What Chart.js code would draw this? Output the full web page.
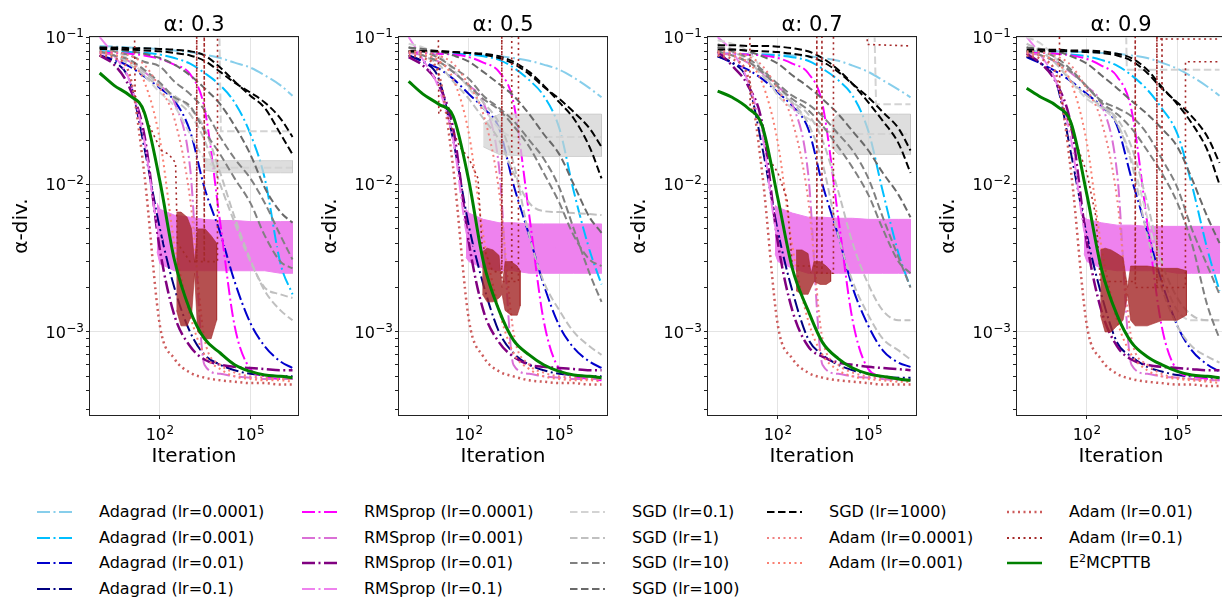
<!DOCTYPE html>
<html>
<head>
<meta charset="utf-8">
<title>alpha-divergence vs iteration</title>
<script src="https://cdn.jsdelivr.net/npm/chart.js@4.4.1/dist/chart.umd.min.js"></script>
<style>
  body { margin: 0; width: 1222px; height: 598px; overflow: hidden; background: #fff; font-family: "DejaVu Sans", sans-serif; }
  canvas.panel { position: absolute; top: 0; }
  .lg { position: absolute; height: 20px; line-height: 20px; font-size: 16px; color: #000; white-space: nowrap; }
  .lg svg { position: absolute; left: 0; top: 5px; }
  .lg span { position: absolute; top: 0; }
  .lg sup { font-size: 11px; line-height: 0; }
</style>
</head>
<body>
<canvas class="panel" id="panel0" width="309" height="480" style="left:0px"></canvas>
<canvas class="panel" id="panel1" width="309" height="480" style="left:309px"></canvas>
<canvas class="panel" id="panel2" width="309" height="480" style="left:618px"></canvas>
<canvas class="panel" id="panel3" width="309" height="480" style="left:927px"></canvas>
<div id="legend"></div>
<script>
// one row per panel (alpha = 0.3, 0.5, 0.7, 0.9), values sampled at `iters`
const alphas = ['0.3', '0.5', '0.7', '0.9'];
const iters = [1, 3, 10, 30, 100, 300, 1e3, 3e3, 1e4, 3e4, 1e5, 3e5, 1e6, 2.5e6];

const adagrad_1e4 = [
  [.087, .086, .085, .084, .083, .081, .079, .076, .072, .067, .062, .055, .047, .040],
  [.078, .078, .077, .077, .076, .075, .074, .072, .069, .065, .060, .053, .045, .039],
  [.077, .077, .076, .076, .076, .075, .074, .072, .069, .064, .058, .051, .044, .039],
  [.080, .080, .080, .079, .079, .078, .077, .075, .072, .067, .061, .054, .046, .040]
];
const adagrad_1e3 = [
  [.080, .080, .079, .078, .076, .072, .066, .057, .047, .036, .022, .011, .0029, .0018],
  [.078, .078, .077, .077, .076, .074, .070, .062, .051, .040, .024, .009, .0036, .0021],
  [.077, .077, .076, .076, .075, .073, .069, .061, .051, .040, .023, .009, .0034, .0020],
  [.078, .078, .077, .076, .074, .070, .064, .055, .044, .033, .022, .010, .0036, .0019]
];
const adagrad_1e2 = [
  [.075, .070, .063, .054, .045, .037, .023, .0095, .0047, .0022, .00115, .0008, .00063, .00057],
  [.075, .068, .061, .052, .041, .033, .024, .010, .0045, .0021, .0011, .00078, .00063, .00057],
  [.074, .067, .060, .052, .042, .034, .024, .010, .0045, .0020, .0011, .00075, .00062, .00058],
  [.073, .066, .058, .050, .041, .034, .025, .011, .0048, .0022, .0011, .00075, .00060, .00054]
];
const adagrad_1e1 = [
  [.075, .068, .050, .018, .0050, .0020, .0010, .0007, .0006, .00055, .00052, .00051, .0005, .0005],
  [.075, .068, .052, .020, .0052, .0021, .0010, .00072, .0006, .00055, .00052, .00051, .0005, .0005],
  [.074, .067, .050, .018, .0048, .0019, .0009, .0007, .0006, .00055, .00052, .0005, .00049, .00049],
  [.074, .066, .048, .016, .0045, .0018, .00085, .00068, .00058, .00054, .00051, .0005, .00049, .00049]
];

const rms_1e4 = [
  [.078, .078, .077, .075, .071, .065, .056, .033, .0055, .0011, .00056, .0005, .00048, .00048],
  [.078, .078, .077, .076, .073, .067, .058, .036, .0062, .0012, .00056, .0005, .00048, .00047],
  [.077, .077, .076, .075, .072, .066, .057, .035, .0060, .0012, .00056, .0005, .00048, .00047],
  [.078, .078, .077, .075, .071, .064, .054, .032, .0055, .0011, .00055, .0005, .00048, .00047]
];
const rms_1e3 = [
  [.078, .075, .068, .058, .047, .036, .013, .0006, .00052, .0005, .00049, .00048, .00048, .00048],
  [.078, .075, .068, .058, .047, .036, .013, .0006, .00052, .0005, .00049, .00048, .00048, .00048],
  [.078, .075, .067, .057, .046, .035, .012, .0006, .00052, .0005, .00049, .00048, .00047, .00047],
  [.078, .075, .067, .057, .046, .035, .012, .0006, .00052, .0005, .00049, .00048, .00047, .00047]
];
const rms_1e2 = [
  [.075, .065, .045, .022, .0036, .0013, .0008, .00065, .0006, .00058, .00057, .00056, .00055, .00055],
  [.073, .064, .047, .024, .0040, .0014, .00085, .00068, .0006, .00058, .00057, .00056, .00055, .00055],
  [.080, .064, .047, .026, .0040, .0014, .0008, .00068, .00062, .0006, .00058, .00057, .00056, .00055],
  [.077, .066, .048, .025, .0040, .0014, .0008, .00065, .0006, .00058, .00057, .00056, .00055, .00055]
];
const rms_1e1 = [
  [.10, .075, .050, .020, .0045, .0038, .0038, .0038, .0038, .0037, .0037, .0037, .0037, .0037],
  [.10, .070, .045, .020, .0042, .0037, .0037, .0037, .0037, .0037, .0037, .0037, .0037, .0037],
  [.10, .080, .050, .022, .0045, .0039, .0039, .0039, .0039, .0038, .0038, .0038, .0038, .0038],
  [.10, .075, .048, .020, .0042, .0036, .0036, .0036, .0036, .0036, .0036, .0036, .0036, .0036]
];
// spread of the noisy RMSprop (lr=0.1) runs
const violetIters = [80, 100, 300, 1e3, 3e3, 1e4, 3e4, 1e5, 3e5, 1e6, 2.5e6];
const violetHi = [
  [.0075, .0068, .0062, .0060, .0058, .0057, .0057, .0056, .0056, .0056, .0056],
  [.0068, .0064, .0058, .0055, .0055, .0054, .0054, .0054, .0054, .0054, .0054],
  [.0072, .0070, .0064, .0060, .0060, .0059, .0059, .0058, .0058, .0058, .0058],
  [.0060, .0058, .0055, .0053, .0053, .0052, .0052, .0052, .0052, .0052, .0052]
];
const violetLo = [
  [.0035, .0029, .0026, .0026, .0026, .0026, .0026, .0026, .0026, .0025, .0025],
  [.0032, .0030, .0027, .0026, .0026, .0025, .0025, .0025, .0025, .0025, .0025],
  [.0034, .0030, .0027, .0025, .0025, .0025, .0025, .0025, .0025, .0025, .0025],
  [.0034, .0030, .0027, .0026, .0026, .0026, .0026, .0025, .0025, .0025, .0025]
];

const sgd_01 = [
  [.085, .080, .070, .055, .042, .034, .022, .015, .013, .013, .013, .013, .013, .013],
  [.090, .085, .075, .060, .045, .033, .024, .021, .021, .021, .021, .021, .021, .021],
  [.095, .090, .080, .060, .040, .033, .028, .024, .022, .022, .022, .022, .022, .022],
  [.100, .090, .070, .050, .038, .033, .026, .015, .0060, .0025, .0014, .0012, .0012, .0012]
];
// noisy plateau of SGD (lr=0.1)
const sgdNoiseIters = [[3000, 1e4, 1e5, 1e6, 2.5e6], [300, 1e3, 1e4, 1e5, 1e6, 2.5e6], [6000, 1e4, 1e5, 1e6, 2.5e6], []];
const sgdNoiseHi = [[.015, .0145, .0145, .0145, .0145], [.026, .030, .030, .030, .030, .030], [.027, .030, .030, .030, .030], []];
const sgdNoiseLo = [[.0125, .012, .012, .012, .012], [.018, .016, .0155, .0155, .0155, .0155], [.018, .016, .016, .016, .016], []];
// SGD (lr=0.1) runs that start off the chart and drop onto a plateau
const sgdJump = [
  [[1, .2], [9000, .2], [10500, .023], [2.5e6, .023]],
  [],
  [[1, .2], [1.5e5, .2], [1.8e5, .035], [2.5e6, .035]],
  [[1, .2], [1900, .2], [2100, .06], [2.5e6, .06]]
];
const sgd_1 = [
  [.080, .075, .065, .055, .046, .040, .033, .024, .012, .0060, .0031, .0019, .0014, .0012],
  [.085, .075, .065, .050, .038, .028, .020, .012, .0075, .0066, .0065, .0064, .0063, .0062],
  [.090, .080, .070, .055, .043, .036, .030, .020, .009, .0040, .0021, .0014, .0012, .0012],
  [.090, .080, .065, .050, .040, .034, .028, .018, .0075, .0030, .0017, .0013, .0012, .0012]
];
const sgd_1_run2 = [
  [.080, .075, .068, .058, .047, .038, .030, .020, .010, .0055, .0030, .0020, .0018, .0017],
  [.080, .075, .068, .058, .046, .036, .026, .014, .0045, .0022, .0014, .0010, .0008, .0007],
  [.080, .075, .068, .058, .046, .036, .026, .014, .0045, .0022, .0013, .0009, .00075, .00065],
  [.080, .075, .068, .058, .046, .036, .026, .014, .0045, .0020, .0011, .0008, .00068, .00062]
];
const sgd_10 = [
  [.085, .080, .075, .068, .063, .050, .041, .032, .021, .015, .011, .0075, .0045, .0031],
  [.085, .080, .072, .062, .052, .040, .033, .027, .020, .015, .0095, .0050, .0025, .0016],
  [.085, .080, .072, .060, .048, .040, .035, .029, .022, .017, .011, .0060, .0032, .0020],
  [.085, .080, .072, .060, .046, .037, .033, .029, .022, .015, .0095, .0050, .0028, .0018]
];
const sgd_10_run2 = [
  [.080, .075, .070, .060, .049, .039, .034, .023, .016, .011, .0075, .0045, .0030, .0027],
  [.080, .075, .068, .058, .047, .038, .032, .025, .018, .012, .0075, .0045, .0031, .0028],
  [.080, .075, .068, .058, .046, .038, .032, .025, .018, .013, .0085, .0050, .0030, .0025],
  [.080, .075, .068, .058, .046, .036, .030, .024, .017, .012, .0075, .0040, .0015, .0009]
];
const sgd_100 = [
  [.085, .083, .080, .077, .072, .065, .055, .045, .035, .025, .016, .0095, .0065, .0055],
  [.085, .083, .080, .075, .068, .058, .048, .040, .030, .022, .016, .010, .0060, .0047],
  [.085, .083, .080, .074, .066, .055, .046, .038, .030, .023, .017, .012, .0085, .0060],
  [.085, .083, .080, .074, .066, .055, .045, .037, .030, .024, .018, .011, .0060, .0040]
];
const sgd_1000 = [
  [.085, .085, .084, .084, .083, .082, .080, .075, .062, .050, .040, .033, .022, .016],
  [.080, .080, .080, .079, .078, .077, .074, .068, .058, .047, .036, .028, .018, .011],
  [.088, .088, .087, .087, .086, .084, .080, .072, .060, .048, .036, .027, .019, .012],
  [.082, .082, .082, .081, .081, .080, .077, .072, .060, .046, .035, .026, .017, .010]
];
const sgd_1000_run2 = [
  [.083, .083, .082, .081, .080, .078, .075, .069, .058, .049, .042, .036, .028, .021],
  [.080, .080, .080, .079, .078, .076, .072, .066, .056, .046, .038, .031, .024, .018],
  [.082, .082, .081, .080, .079, .077, .074, .068, .058, .048, .039, .031, .024, .017],
  [.080, .080, .080, .080, .079, .078, .075, .069, .057, .045, .036, .029, .021, .014]
];

const adam_1e4 = [
  [.080, .079, .075, .065, .045, .028, .008, .0009, .0006, .00053, .0005, .00049, .00048, .00048],
  [.080, .079, .075, .066, .047, .030, .009, .0010, .0006, .00053, .0005, .00049, .00048, .00048],
  [.080, .079, .074, .064, .044, .027, .008, .0009, .0006, .00053, .0005, .00049, .00048, .00047],
  [.080, .079, .074, .064, .044, .027, .008, .0009, .0006, .00052, .00049, .00048, .00047, .00047]
];
const adam_1e3 = [
  [.078, .076, .068, .050, .020, .0040, .0013, .0007, .00056, .0005, .00048, .00047, .00047, .00046],
  [.078, .076, .069, .052, .022, .0045, .0014, .00072, .00056, .0005, .00048, .00047, .00047, .00046],
  [.078, .075, .067, .049, .019, .0038, .0012, .0007, .00055, .0005, .00048, .00047, .00046, .00046],
  [.078, .075, .067, .049, .019, .0038, .0012, .0007, .00055, .0005, .00048, .00047, .00046, .00045]
];
const adam_1e2 = [
  [.075, .072, .055, .012, .0011, .00066, .00053, .00049, .00047, .00046, .00045, .00045, .00044, .00044],
  [.075, .072, .056, .013, .0012, .00068, .00054, .0005, .00047, .00046, .00045, .00045, .00044, .00044],
  [.075, .071, .054, .012, .0011, .00066, .00053, .00049, .00047, .00046, .00045, .00044, .00044, .00044],
  [.075, .071, .054, .012, .0011, .00065, .00052, .00048, .00046, .00045, .00044, .00044, .00043, .00043]
];
// Adam (lr=0.1): [iteration, value] with its blow-ups above the top of the axis
const adam_1e1 = [
  [[1, .2], [14, .2], [15, .04], [22, .035], [35, .028], [60, .022], [110, .017], [200, .016], [330, .014], [380, .004],
   [1000, .003], [1650, .003], [1660, .2], [1680, .003], [2940, .003], [2950, .2], [2970, .003], [8100, .003], [8150, .2], [2.5e6, .2]],
  [[1, .2], [9.5, .2], [10, .03], [15, .035], [25, .025], [50, .018], [100, .015], [200, .011], [270, .004], [600, .0026],
   [1220, .0025], [1230, .2], [1245, .0022], [2620, .0022], [2630, .2], [2650, .0022], [4390, .0022], [4400, .2], [2.5e6, .2]],
  [[1, .2], [11.5, .2], [12, .033], [18, .03], [30, .025], [50, .015], [100, .012], [200, .008], [300, .0028],
   [1940, .0028], [1950, .2], [1970, .0025], [2870, .0025], [2880, .2], [2900, .0025], [6940, .0025], [6950, .2],
   [9.1e4, .2], [9.2e4, .089], [2.5e6, .087]],
  [[1, .2], [12, .2], [12.6, .04], [20, .03], [40, .02], [100, .012], [200, .006], [280, .0022], [3990, .0022], [4000, .2],
   [4050, .002], [20800, .002], [20900, .2], [21100, .002], [30800, .002], [30900, .2], [31200, .002], [1.85e5, .002],
   [1.86e5, .068], [2.5e6, .068]]
];
const adam_1e1_run2 = [[], [], [], [[20900, .2], [21000, .097], [2.5e6, .097]]];
// spread of the oscillating Adam (lr=0.1) phase
const adamNoiseIters = [
  [355, 500, 800, 1120, 1410, 1780, 3160, 5000, 7600],
  [280, 400, 630, 1000, 1260, 1580, 2500, 4000, 5000],
  [400, 630, 1000, 1260, 1580, 2500, 4000, 5600],
  [280, 400, 630, 1000, 1580, 2240, 2820, 4000, 1e4, 3.2e4, 1e5, 2e5]
];
const adamNoiseHi = [
  [.0065, .0065, .006, .005, .003, .005, .005, .0045, .004],
  [.0035, .0037, .0036, .0033, .002, .003, .003, .0028, .0026],
  [.0036, .0036, .0034, .0025, .003, .003, .0028, .0026],
  [.0036, .0037, .0036, .0034, .0032, .002, .0028, .0028, .0028, .0027, .0027, .0026]
];
const adamNoiseLo = [
  [.0014, .0011, .0011, .0013, .0025, .001, .0009, .0009, .0012],
  [.0018, .0016, .0016, .0017, .0018, .0014, .0013, .0013, .0015],
  [.0019, .0018, .0018, .002, .0022, .0021, .0021, .0022],
  [.0013, .001, .001, .0011, .0012, .0018, .0012, .0011, .0011, .0012, .0012, .0013]
];

const e2mcpttb = [
  [.057, .047, .040, .031, .0105, .0031, .0014, .0009, .00072, .0006, .00054, .00051, .0005, .00049],
  [.050, .041, .035, .029, .0105, .0030, .0014, .00088, .0007, .0006, .00054, .00051, .0005, .00049],
  [.043, .039, .033, .025, .0080, .0027, .0014, .00085, .00066, .00057, .00052, .0005, .00048, .00047],
  [.045, .039, .034, .026, .0085, .0027, .0013, .00085, .00068, .0006, .00054, .00051, .0005, .00049]
];

const xTickValues = [100, 1e5];

const FONT = '"DejaVu Sans", sans-serif';
const DASHDOT = [13, 3.5, 2, 3.5];
const DASHED = [7.5, 3.5];
const DOTTED = [2, 3.5];

const st = {
  ada4: { label: 'Adagrad (lr=0.0001)', color: '#87ceeb', dash: DASHDOT },
  ada3: { label: 'Adagrad (lr=0.001)', color: '#00bfff', dash: DASHDOT },
  ada2: { label: 'Adagrad (lr=0.01)', color: '#0000cd', dash: DASHDOT },
  ada1: { label: 'Adagrad (lr=0.1)', color: '#000080', dash: DASHDOT },
  rms4: { label: 'RMSprop (lr=0.0001)', color: '#ff00ff', dash: DASHDOT },
  rms3: { label: 'RMSprop (lr=0.001)', color: '#da70d6', dash: DASHDOT },
  rms2: { label: 'RMSprop (lr=0.01)', color: '#800080', dash: DASHDOT, width: 2.5 },
  rms1: { label: 'RMSprop (lr=0.1)', color: '#ee82ee', dash: DASHDOT },
  sgd01: { label: 'SGD (lr=0.1)', color: '#d3d3d3', dash: DASHED },
  sgd1: { label: 'SGD (lr=1)', color: '#c0c0c0', dash: DASHED },
  sgd10: { label: 'SGD (lr=10)', color: '#808080', dash: DASHED },
  sgd100: { label: 'SGD (lr=100)', color: '#696969', dash: DASHED },
  sgd1000: { label: 'SGD (lr=1000)', color: '#000000', dash: DASHED },
  adam4: { label: 'Adam (lr=0.0001)', color: '#f08080', dash: DOTTED },
  adam3: { label: 'Adam (lr=0.001)', color: '#fa8072', dash: DOTTED },
  adam2: { label: 'Adam (lr=0.01)', color: '#cd5c5c', dash: DOTTED, width: 2.5 },
  adam1: { label: 'Adam (lr=0.1)', color: '#a52a2a', dash: DOTTED, width: 1.6 },
  ours: { label: 'E<sup>2</sup>MCPTTB', color: '#008000', dash: [], width: 3 }
};

function curve(vals, s) {
  return {
    data: iters.map((x, i) => ({ x, y: vals[i] })),
    borderColor: s.color, borderWidth: s.width || 2, borderDash: s.dash,
    pointRadius: 0, fill: false, cubicInterpolationMode: 'monotone'
  };
}
function pairs(list, s) {
  return {
    data: list.map(p => ({ x: p[0], y: p[1] })),
    borderColor: s.color, borderWidth: s.width || 2, borderDash: s.dash,
    pointRadius: 0, fill: false, tension: 0
  };
}
function band(xs, hi, lo, color, edge) {
  const top = xs.map((x, i) => ({ x, y: hi[i] }));
  const bottom = xs.map((x, i) => ({ x, y: lo[i] })).reverse();
  return {
    data: top.concat(bottom),
    borderColor: edge || color, backgroundColor: color, borderWidth: 1,
    pointRadius: 0, fill: 'shape', tension: 0
  };
}

function buildDatasets(k) {
  const list = [
    band(violetIters, violetHi[k], violetLo[k], st.rms1.color),
    curve(adagrad_1e4[k], st.ada4),
    curve(adagrad_1e3[k], st.ada3),
    curve(adagrad_1e2[k], st.ada2),
    curve(adagrad_1e1[k], st.ada1),
    curve(rms_1e4[k], st.rms4),
    curve(rms_1e3[k], st.rms3),
    curve(rms_1e2[k], st.rms2),
    curve(rms_1e1[k], st.rms1),
    curve(sgd_01[k], st.sgd01)
  ];
  if (sgdNoiseIters[k].length) {
    list.push(band(sgdNoiseIters[k], sgdNoiseHi[k], sgdNoiseLo[k], 'rgba(211,211,211,0.75)', 'rgba(200,200,200,0.8)'));
  }
  if (sgdJump[k].length) list.push(pairs(sgdJump[k], st.sgd01));
  list.push(
    curve(sgd_1[k], st.sgd1),
    curve(sgd_1_run2[k], st.sgd1),
    curve(sgd_10[k], st.sgd10),
    curve(sgd_10_run2[k], st.sgd10),
    curve(sgd_100[k], st.sgd100),
    curve(sgd_1000[k], st.sgd1000),
    curve(sgd_1000_run2[k], st.sgd1000),
    curve(adam_1e4[k], st.adam4),
    curve(adam_1e3[k], st.adam3),
    curve(adam_1e2[k], st.adam2),
    band(adamNoiseIters[k], adamNoiseHi[k], adamNoiseLo[k], 'rgba(165,42,42,0.82)', 'rgba(165,42,42,0.6)'),
    pairs(adam_1e1[k], st.adam1)
  );
  if (adam_1e1_run2[k].length) list.push(pairs(adam_1e1_run2[k], st.adam1));
  list.push(curve(e2mcpttb[k], st.ours));
  // later entries are painted on top
  list.forEach((d, i) => { d.order = -i; });
  return list;
}

function isDecade(v) {
  const e = Math.log10(v);
  return Math.abs(e - Math.round(e)) < 1e-6;
}

const Y_MIN = Math.pow(10, -3.563);
const Y_MAX = 0.1;
const yTickValues = [];
for (let e = -4; e <= -1; e++) {
  for (let m = 1; m <= 9; m++) {
    const v = m * Math.pow(10, e);
    if (v >= Y_MIN && v <= Y_MAX * 1.0001) yTickValues.push(v);
  }
}

// "10" with a raised exponent, anchored at its right end or centre
function drawPow(ctx, exp, x, baseline, align) {
  const base = '10';
  const sup = exp < 0 ? '\u2212' + (-exp) : String(exp);
  ctx.font = '16px ' + FONT;
  const wb = ctx.measureText(base).width;
  ctx.font = '12px ' + FONT;
  const ws = ctx.measureText(sup).width;
  const total = wb + 0.5 + ws;
  const left = align === 'right' ? x - total : x - total / 2;
  ctx.textAlign = 'left';
  ctx.textBaseline = 'alphabetic';
  ctx.font = '16px ' + FONT;
  ctx.fillText(base, left, baseline);
  ctx.font = '12px ' + FONT;
  ctx.fillText(sup, left + wb + 0.5, baseline - 6);
}

// spines, tick labels and panel title
const decor = {
  id: 'decor',
  afterDatasetsDraw(chart) {
    const { ctx, chartArea: a } = chart;
    ctx.save();
    ctx.strokeStyle = '#222';
    ctx.lineWidth = 1;
    ctx.strokeRect(Math.round(a.left) - 0.5, Math.round(a.top) - 0.5, Math.round(a.right - a.left) + 1, Math.round(a.bottom - a.top) + 1);
    ctx.restore();
  },
  afterDraw(chart) {
    const { ctx, chartArea: a, scales } = chart;
    ctx.save();
    ctx.fillStyle = '#000';
    yTickValues.filter(isDecade).forEach(v => {
      drawPow(ctx, Math.round(Math.log10(v)), a.left - 6, scales.y.getPixelForValue(v) + 5.8, 'right');
    });
    xTickValues.forEach(v => {
      drawPow(ctx, Math.round(Math.log10(v)), scales.x.getPixelForValue(v), a.bottom + 24.5, 'center');
    });
    ctx.font = '21px ' + FONT;
    ctx.textAlign = 'center';
    ctx.textBaseline = 'alphabetic';
    ctx.fillText(chart.options.plugins.decor.title, (a.left + a.right) / 2, 30.5);
    ctx.restore();
  }
};

Chart.defaults.font.family = FONT;
Chart.defaults.color = '#000';

function makeChart(k) {
  new Chart(document.getElementById('panel' + k), {
    type: 'line',
    data: { datasets: buildDatasets(k) },
    options: {
      responsive: false,
      animation: false,
      devicePixelRatio: 1,
      events: [],
      layout: { padding: { left: 0, right: 11, top: 37, bottom: 0 } },
      plugins: {
        legend: { display: false },
        tooltip: { enabled: false },
        title: { display: false },
        decor: { title: '\u03b1: ' + alphas[k] }
      },
      scales: {
        x: {
          type: 'logarithmic',
          min: Math.pow(10, -0.32), max: Math.pow(10, 6.58),
          afterBuildTicks: s => { s.ticks = xTickValues.map(v => ({ value: v, major: true })); },
          afterFit: s => { s.height = 65; },
          ticks: { display: false, autoSkip: false },
          grid: { color: '#e4e4e4', lineWidth: 1, drawTicks: true, tickLength: 4, tickColor: '#222' },
          border: { display: false },
          title: { display: true, text: 'Iteration', color: '#000', font: { size: 20 }, padding: { top: 0, bottom: 11 } }
        },
        y: {
          type: 'logarithmic',
          min: Y_MIN, max: Y_MAX,
          afterBuildTicks: s => { s.ticks = yTickValues.map(v => ({ value: v, major: isDecade(v) })); },
          afterFit: s => { s.width = 90; },
          ticks: { display: false, autoSkip: false },
          grid: {
            color: c => (c.tick && isDecade(c.tick.value) ? '#e4e4e4' : 'rgba(0,0,0,0)'),
            lineWidth: 1, drawTicks: true, tickLength: 4, tickColor: '#222'
          },
          border: { display: false },
          title: { display: true, text: '\u03b1-div.', color: '#000', font: { size: 20 }, padding: { top: 10, bottom: 0 } }
        }
      }
    },
    plugins: [decor]
  });
}

for (let k = 0; k < 4; k++) makeChart(k);

// legend: five columns, filled top to bottom
const legendOrder = ['ada4', 'ada3', 'ada2', 'ada1', 'rms4', 'rms3', 'rms2', 'rms1', 'sgd01', 'sgd1', 'sgd10', 'sgd100',
  'sgd1000', 'adam4', 'adam3', 'adam2', 'adam1', 'ours'];
const legendColX = [37, 302, 570, 767, 1007];
const legendRowY = [512, 537.5, 563, 588.5];
const legendBox = document.getElementById('legend');
legendOrder.forEach((key, j) => {
  const s = st[key];
  let col, row;
  if (j < 12) { col = Math.floor(j / 4); row = j % 4; } else if (j < 15) { col = 3; row = j - 12; } else { col = 4; row = j - 15; }
  const el = document.createElement('div');
  el.className = 'lg';
  el.style.left = legendColX[col] + 'px';
  el.style.top = (legendRowY[row] - 10) + 'px';
  const dash = s.dash.length ? s.dash.join(' ') : 'none';
  el.innerHTML = '<svg width="36" height="10"><line x1="0" y1="5" x2="35" y2="5" stroke="' + s.color +
    '" stroke-width="' + (s.width && s.width > 2 ? 2.5 : 2) + '" stroke-dasharray="' + dash + '"/></svg>' +
    '<span style="left:62px">' + s.label + '</span>';
  legendBox.appendChild(el);
});
</script>
</body>
</html>
